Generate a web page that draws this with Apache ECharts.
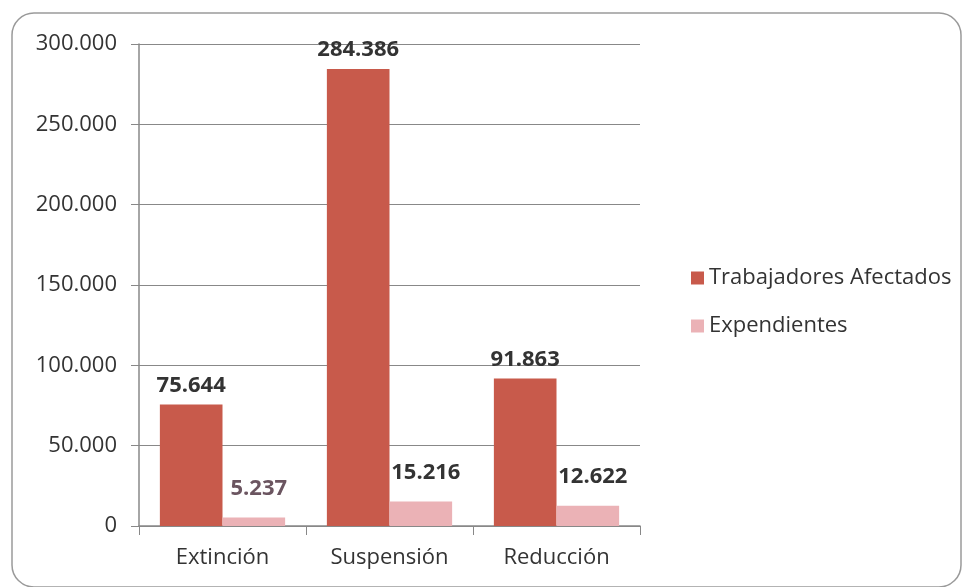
<!DOCTYPE html>
<html><head><meta charset="utf-8">
<script src="https://cdn.jsdelivr.net/npm/echarts@6/dist/echarts.min.js"></script>
<style>html,body{margin:0;padding:0;background:#fff}#c{width:963px;height:587px}</style>
</head><body><div id="c"></div>
<script>
const categories = ['Extinción', 'Suspensión', 'Reducción'];
const trabajadores = [75644, 284386, 91863];
const expedientes = [5237, 15216, 12622];
const seriesNames = ['Trabajadores Afectados', 'Expendientes'];

const fmt = v => String(v).replace(/\B(?=(\d{3})+(?!\d))/g, '.');
const chart = echarts.init(document.getElementById('c'));
const font = '"Open Sans", "Noto Sans", sans-serif';
chart.setOption({
  animation: false,
  backgroundColor: '#fff',
  graphic: [{
    type: 'rect', shape: {x: 12, y: 13, width: 949, height: 574, r: 22},
    style: {fill: 'none', stroke: '#9a9a9a', lineWidth: 1.5}, z: -1
  }],
  grid: {left: 139, right: 323, top: 44, bottom: 61, containLabel: false},
  legend: {
    orient: 'vertical', left: 686, top: 262, itemGap: 26,
    itemWidth: 13, itemHeight: 13, icon: 'rect',
    textStyle: {fontFamily: font, fontSize: 22, color: '#333'},
    data: seriesNames
  },
  xAxis: {
    type: 'category', data: categories,
    axisLine: {lineStyle: {color: '#888', width: 1.5}},
    axisTick: {show: true, length: 9, lineStyle: {color: '#888'}},
    axisLabel: {fontFamily: font, fontSize: 22, color: '#333', margin: 21}
  },
  yAxis: {
    type: 'value', min: 0, max: 300000, interval: 50000,
    axisLine: {show: true, lineStyle: {color: '#888', width: 1.5}},
    axisTick: {show: true, length: 8, lineStyle: {color: '#888'}},
    splitLine: {lineStyle: {color: '#888', width: 1.2}},
    axisLabel: {fontFamily: font, fontSize: 22, color: '#333', margin: 22, formatter: v => fmt(v)}
  },
  series: [{
    name: seriesNames[0], type: 'bar', data: trabajadores,
    barGap: '0%', barCategoryGap: '25%',
    itemStyle: {color: '#c85a4b'},
    label: {show: true, position: 'top', distance: 8, fontFamily: font, fontWeight: 'bold',
      fontSize: 22, color: '#333', formatter: p => fmt(p.value)}
  }, {
    name: seriesNames[1], type: 'bar', data: expedientes,
    itemStyle: {color: '#ebb2b6'},
    label: {show: true, position: 'top', distance: 18, offset: [5, 0], fontFamily: font, fontWeight: 'bold',
      fontSize: 22, color: '#333',
      formatter: p => p.dataIndex === 0 ? '{m|' + fmt(p.value) + '}' : fmt(p.value),
      rich: {m: {color: '#6b5560', fontFamily: font, fontWeight: 'bold', fontSize: 22}}}
  }]
});
</script></body></html>
